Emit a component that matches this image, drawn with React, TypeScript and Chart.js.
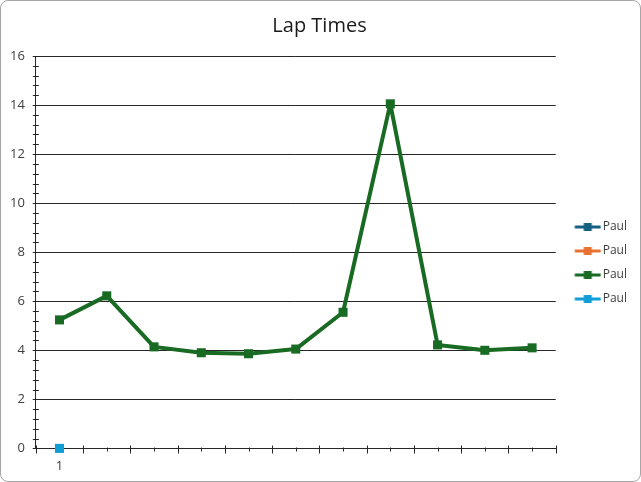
import React, { useEffect, useRef } from "react";
import { Chart, registerables } from "chart.js";

Chart.register(...registerables);

const categories = ["1", "", "", "", "", "", "", "", "", "", ""];
const series1: (number | null)[] = [];
const series2: (number | null)[] = [];
const series3 = [5.24, 6.22, 4.14, 3.9, 3.86, 4.05, 5.55, 14.05, 4.22, 4.0, 4.1];
const series4 = [0];
const seriesNames = ["Paul", "Paul", "Paul", "Paul"];
const seriesColors = ["#156082", "#E97132", "#196B24", "#0F9ED5"];
const yTicks = [0, 2, 4, 6, 8, 10, 12, 14, 16];

const FONT = "'Open Sans', 'Liberation Sans', sans-serif";

function makeLegendImage(color: string): HTMLCanvasElement {
  const c = document.createElement("canvas");
  c.width = 44;
  c.height = 10;
  const ctx = c.getContext("2d")!;
  ctx.strokeStyle = color;
  ctx.lineWidth = 3;
  ctx.beginPath();
  ctx.moveTo(14.5, 5);
  ctx.lineTo(40.5, 5);
  ctx.stroke();
  ctx.fillStyle = color;
  ctx.fillRect(23.5, 1, 8, 8);
  return c;
}

const axisTicksPlugin = {
  id: "axisTicks",
  afterLayout(chart: any) {
    const lg = chart.legend;
    if (lg) {
      lg.top += 23;
      lg.bottom += 23;
    }
  },
  beforeDatasetsDraw(chart: any) {
    const ctx = chart.ctx;
    const x = chart.scales.x;
    const y = chart.scales.y;
    const area = chart.chartArea;
    ctx.save();
    ctx.strokeStyle = "#262626";
    ctx.lineWidth = 1;
    for (let i = 0; i <= 40; i++) {
      const v = i * 0.4;
      const py = Math.round(y.getPixelForValue(v)) + 0.5;
      ctx.beginPath();
      ctx.moveTo(area.left - 3, py);
      ctx.lineTo(area.left + 3, py);
      ctx.stroke();
    }
    const n = categories.length;
    const axisY = Math.round(area.bottom) + 0.5;
    for (let i = 0; i <= n; i++) {
      let px: number;
      if (i === 0) px = area.left;
      else if (i === n) px = area.right;
      else px = (x.getPixelForValue(i - 1) + x.getPixelForValue(i)) / 2;
      px = Math.round(px) + 0.5;
      ctx.beginPath();
      ctx.moveTo(px, axisY - 3);
      ctx.lineTo(px, axisY + 5);
      ctx.stroke();
    }
    for (let i = 0; i < n; i++) {
      const px = Math.round(x.getPixelForValue(i)) + 0.5;
      ctx.beginPath();
      ctx.moveTo(px, axisY - 1);
      ctx.lineTo(px, axisY + 3);
      ctx.stroke();
    }
    ctx.restore();
  },
};

export default function App() {
  const ref = useRef<HTMLCanvasElement>(null);
  useEffect(() => {
    if (!ref.current) return;
    const datasets = [series1, series2, series3, series4].map((d, i) => ({
      label: seriesNames[i],
      data: d,
      borderColor: seriesColors[i],
      backgroundColor: seriesColors[i],
      borderWidth: 4,
      borderJoinStyle: "round" as const,
      pointStyle: "rect" as const,
      pointRadius: 6.4,
      pointBorderWidth: 0,
      tension: 0,
      clip: false as const,
      order: 10 - i,
    }));
    const images = seriesColors.map(makeLegendImage);
    const chart = new Chart(ref.current, {
      type: "line",
      data: { labels: categories, datasets },
      plugins: [axisTicksPlugin],
      options: {
        animation: false,
        responsive: false,
        maintainAspectRatio: false,
        layout: { padding: { left: 1, right: 3, top: 0, bottom: 2 } },
        plugins: {
          tooltip: { enabled: false },
          title: {
            display: true,
            text: "Lap Times",
            color: "#1a1a1a",
            font: { family: FONT, size: 20, weight: "normal" },
            padding: { top: 13, bottom: 18 },
          },
          legend: {
            position: "right",
            labels: {
              usePointStyle: true,
              pointStyleWidth: 29,
              color: "#404040",
              font: { family: FONT, size: 12 },
              padding: 12,
              generateLabels: (ch: any) =>
                ch.data.datasets.map((ds: any, i: number) => ({
                  text: ds.label,
                  pointStyle: images[i],
                  fillStyle: ds.backgroundColor,
                  strokeStyle: ds.borderColor,
                  lineWidth: 0,
                  hidden: false,
                  datasetIndex: i,
                  fontColor: "#404040",
                })),
            },
          },
        },
        scales: {
          x: {
            type: "category",
            offset: true,
            grid: {
              display: true,
              drawOnChartArea: false,
              drawTicks: true,
              tickLength: 5,
              color: "rgba(0,0,0,0)",
            },
            border: { display: true, color: "#262626", width: 1 },
            ticks: {
              color: "#404040",
              font: { family: FONT, size: 13 },
              padding: 5,
              autoSkip: false,
              maxRotation: 0,
            },
          },
          y: {
            min: 0,
            max: 16,
            afterBuildTicks: (axis: any) => {
              axis.ticks = yTicks.map((v) => ({ value: v }));
            },
            grid: {
              display: true,
              color: "#262626",
              lineWidth: 1,
              drawTicks: true,
              tickLength: 3,
            },
            border: { display: true, color: "#262626", width: 1 },
            ticks: {
              color: "#404040",
              font: { family: FONT, size: 13 },
              padding: 8,
            },
          },
        },
      },
    });
    return () => chart.destroy();
  }, []);
  return (
    <div
      style={{
        position: "fixed",
        left: 0,
        top: 0,
        width: 641,
        height: 482,
        boxSizing: "border-box",
        border: "1px solid #a6a6a6",
        borderRadius: 8,
        background: "#fff",
        overflow: "hidden",
      }}
    >
      <canvas ref={ref} width={639} height={480} style={{ display: "block" }} />
    </div>
  );
}
